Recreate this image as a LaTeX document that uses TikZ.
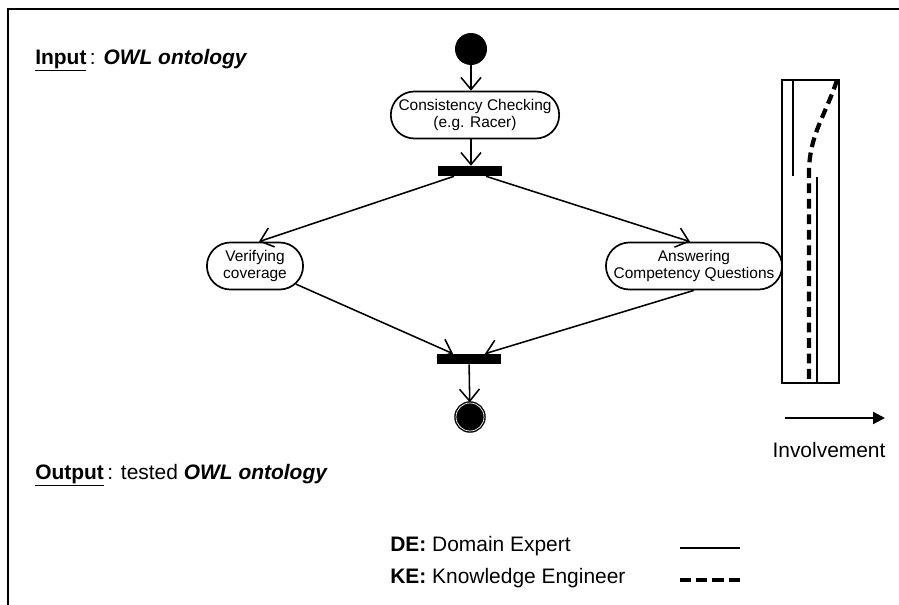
\documentclass[tikz,border=0pt]{standalone}
\usepackage{fontspec}
\setmainfont{Liberation Sans}
\usetikzlibrary{shapes.misc,arrows.meta}

\begin{document}
\begin{tikzpicture}[
  activity/.style={rounded rectangle, draw, line width=1.2pt, minimum height=1.175cm, inner sep=1pt, align=center, font=\fontsize{11}{12.5}\selectfont},
  bar/.style={rectangle, fill=black, minimum width=1.6cm, minimum height=0.25cm, inner sep=0pt},
  initial/.style={circle, fill=black, minimum size=0.8cm, inner sep=0pt},
  final/.style={circle, fill=black, draw=black, double=white, double distance=0.5pt, line width=1pt, minimum size=0.7cm, inner sep=0pt},
  flow/.style={-{Straight Barb[length=3mm,width=5mm]}, line width=1.1pt},
  big/.style={font=\fontsize{14.9}{17}\selectfont},
  de/.style={line width=1.2pt},
  ke/.style={line width=3pt, dash pattern=on 7pt off 4pt}
]
  \useasboundingbox (0,0) rectangle (22.475,-15.125);
  \draw[line width=1.6pt] (0.2,-15.125) |- (22.475,-0.225);

  \node[big, anchor=west, inner sep=0pt] (input) at (0.875,-1.5) {\textbf{\underline{Input}}\,: \textbf{\textit{OWL ontology}}};
  \node[big, anchor=west, inner sep=0pt] (output) at (0.875,-11.88) {\textbf{\underline{Output}}\,: tested \textbf{\textit{OWL ontology}}};

  \node[initial] (start) at (11.775,-1.225) {};
  \node[activity, minimum width=3.85cm] (check) at (11.875,-2.875) {Consistency Checking\\(e.g. Racer)};
  \node[bar] (fork) at (11.75,-4.275) {};
  \node[activity, minimum width=2.475cm] (verify) at (6.375,-6.65) {Verifying\\coverage};
  \node[activity, minimum width=4.25cm] (answer) at (17.35,-6.65) {Answering\\Competency Questions};
  \node[bar] (join) at (11.725,-8.975) {};
  \node[final] (end) at (11.75,-10.425) {};

  \draw[flow] (start) -- (start |- check.north);
  \draw[flow] ([xshift=-0.1cm]check.south) -- ([xshift=-0.1cm]check.south |- fork.north);
  \draw[flow] ([xshift=-0.4cm]fork.south) -- ([xshift=0.1cm]verify.north);
  \draw[flow] ([xshift=0.4cm]fork.south) -- ([xshift=-0.1cm]answer.north);
  \draw[flow] (verify) -- ([xshift=-0.4cm]join.north);
  \draw[flow] (answer.south) -- ([xshift=0.4cm]join.north);
  \draw[flow] (join) -- (end);

  % involvement lane
  \draw[line width=1pt] (19.55,-2) rectangle (20.975,-9.575);
  \draw[de] (19.825,-2) -- (19.825,-4.4);
  \draw[de] (20.425,-4.425) -- (20.425,-9.575);
  \draw[ke] (20.925,-2) to[out=-108,in=90] (20.225,-4.325) -- (20.225,-9.575);

  \coordinate (inv1) at (19.625,-10.45);
  \coordinate (inv2) at (22.125,-10.45);
  \draw[-{Triangle[length=3mm,width=3mm]}, line width=1.6pt] (inv1) -- (inv2);
  \node[big] (inv) at (20.725,-11.25) {Involvement};

  % legend
  \node[big, anchor=west, inner sep=0pt] (delabel) at (9.75,-13.65) {\textbf{DE:} Domain Expert};
  \node[big, anchor=west, inner sep=0pt] (kelabel) at (9.75,-14.45) {\textbf{KE:} Knowledge Engineer};
  \coordinate (de1) at (17,-13.7);
  \coordinate (de2) at (18.5,-13.7);
  \coordinate (ke1) at (17,-14.5);
  \coordinate (ke2) at (18.5,-14.5);
  \draw[de] (de1) -- (de2);
  \draw[ke, dash pattern=on 8pt off 3.5pt] (ke1) -- (ke2);
\end{tikzpicture}
\end{document}
